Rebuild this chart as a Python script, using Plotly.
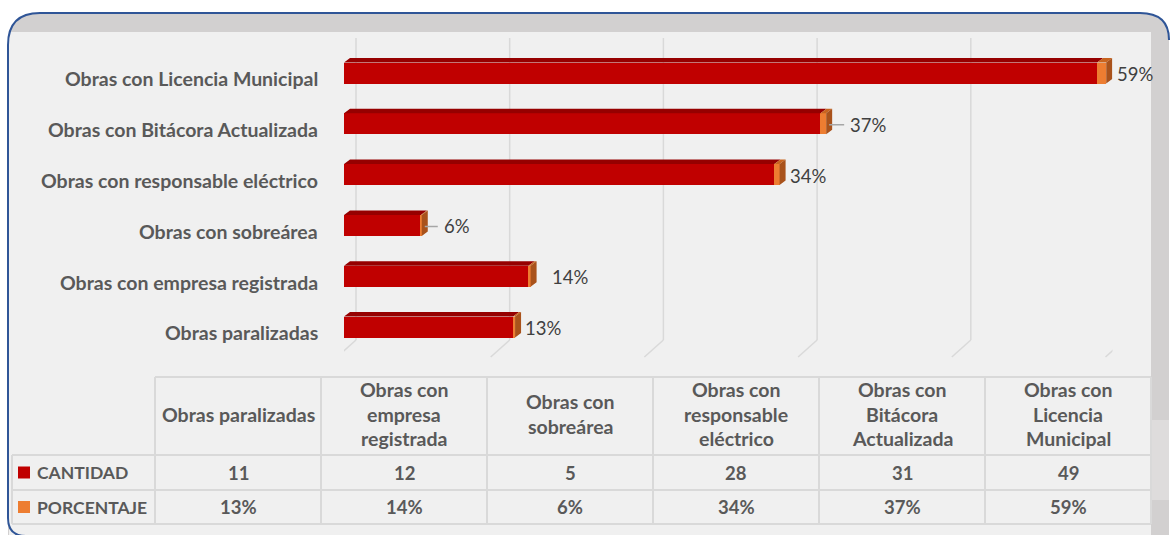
import plotly.graph_objects as go

# Datos (orden de abajo hacia arriba en el grafico, de izquierda a derecha en la tabla)
categorias = [
    "Obras paralizadas",
    "Obras con empresa registrada",
    "Obras con sobreárea",
    "Obras con responsable eléctrico",
    "Obras con Bitácora Actualizada",
    "Obras con Licencia Municipal",
]
cantidad = [11, 12, 5, 28, 31, 49]
porcentaje = [13, 14, 6, 34, 37, 59]
encabezados = [
    ["Obras paralizadas"],
    ["Obras con", "empresa", "registrada"],
    ["Obras con", "sobreárea"],
    ["Obras con", "responsable", "eléctrico"],
    ["Obras con", "Bitácora", "Actualizada"],
    ["Obras con", "Licencia", "Municipal"],
]
series = ["CANTIDAD", "PORCENTAJE"]
x_ticks = [0, 10, 20, 30, 40, 50]

W, H = 1170, 535
FONT = "Lato"
TXT = "#595959"
RED, RED_TOP = "#c00000", "#960000"
ORANGE, ORANGE_TOP, SIDE = "#ed7d31", "#c8641f", "#a9521b"
GRID = "#d9d9d9"


def px(x):
    return x / W


def py(y):
    return 1 - y / H


def pt(x, y):
    return f"{px(x):.5f},{py(y):.5f}"


# geometria del area de barras (pixeles)
X0, SCALE = 344, 15.37          # 0 en la cara frontal, px por unidad
Y_TOP, Y_STEP = 73, 50.8        # centro de la barra superior, separacion
BAR_W = 21 / Y_STEP
DX, DY = 6 / SCALE, 4.5 / Y_STEP  # profundidad 3D en unidades de datos
n = len(categorias)
ypos = list(range(n))
pct = [p / 100 for p in porcentaje]

y_bottom = Y_TOP + (n - 1) * Y_STEP + Y_STEP / 2
y_upper = Y_TOP - Y_STEP / 2

fig = go.Figure()

fig.add_trace(go.Bar(x=cantidad, y=ypos, orientation="h", width=BAR_W, name=series[0],
                     marker=dict(color=RED, line=dict(width=0)), hoverinfo="skip"))
fig.add_trace(go.Bar(x=pct, y=ypos, orientation="h", width=BAR_W, name=series[1],
                     marker=dict(color=ORANGE, line=dict(width=0)), hoverinfo="skip"))

# caras superiores y laterales (efecto 3D)
top_r_x, top_r_y, top_o_x, top_o_y, side_x, side_y = [], [], [], [], [], []
for i, (c, p) in enumerate(zip(cantidad, pct)):
    t = i + BAR_W / 2
    b = i - BAR_W / 2
    top_r_x += [0, c, c + DX, DX, 0, None]
    top_r_y += [t, t, t + DY, t + DY, t, None]
    top_o_x += [c, c + p, c + p + DX, c + DX, c, None]
    top_o_y += [t, t, t + DY, t + DY, t, None]
    e = c + p
    side_x += [e, e, e + DX, e + DX, e, None]
    side_y += [b, t, t + DY, b + DY, b, None]

for xs, ys, col in [(top_r_x, top_r_y, RED_TOP), (top_o_x, top_o_y, ORANGE_TOP), (side_x, side_y, SIDE)]:
    fig.add_trace(go.Scatter(x=xs, y=ys, fill="toself", fillcolor=col, mode="lines",
                             line=dict(width=0, color=col), hoverinfo="skip", showlegend=False))

shapes = []
# marco: banda gris, panel claro, borde azul
shapes.append(dict(type="path", xref="paper", yref="paper", layer="below",
                   path=f"M{pt(8, 535)} L{pt(8, 45)} Q{pt(8, 13)} {pt(40, 13)} L{pt(1140, 13)} "
                        f"Q{pt(1169, 13)} {pt(1169, 40)} L{pt(1169, 535)} Z",
                   fillcolor="#d2d0d0", line=dict(width=0)))
shapes.append(dict(type="rect", xref="paper", yref="paper", layer="below",
                   x0=px(1151), x1=px(1169), y0=py(500), y1=py(420),
                   fillcolor="#dedcdc", line=dict(width=0)))
shapes.append(dict(type="rect", xref="paper", yref="paper", layer="below",
                   x0=px(9), x1=px(1151), y0=py(535), y1=py(32),
                   fillcolor="#f0f0f0", line=dict(width=0)))
shapes.append(dict(type="path", xref="paper", yref="paper", layer="below",
                   path=f"M{pt(26, 536)} Q{pt(8, 536)} {pt(8, 518)} L{pt(8, 45)} Q{pt(8, 13)} {pt(40, 13)} "
                        f"L{pt(1140, 13)} Q{pt(1169, 13)} {pt(1169, 40)}",
                   line=dict(color="#2f5597", width=2)))

# lineas de division (pared del fondo + suelo)
for t in x_ticks:
    shapes.append(dict(type="line", xref="x", xsizemode="pixel", xanchor=t, x0=12, x1=12,
                       yref="paper", y0=py(340), y1=py(38), layer="below",
                       line=dict(color=GRID, width=1.5)))
    shapes.append(dict(type="line", xref="x", xsizemode="pixel", xanchor=t, x0=12, x1=-7,
                       yref="paper", y0=py(340), y1=py(357), layer="below",
                       line=dict(color=GRID, width=1.5)))

# tabla de datos
col_l, col_w = 155, 166
cols = [col_l + k * col_w for k in range(n + 1)]
row_top, row_hdr, row_1, row_2 = 377, 455, 490, 524
tl = dict(color=GRID, width=2)
shapes.append(dict(type="line", xref="paper", yref="paper", x0=px(col_l), x1=px(cols[-1]),
                   y0=py(row_top), y1=py(row_top), line=tl))
for yy in (row_hdr, row_1, row_2):
    shapes.append(dict(type="line", xref="paper", yref="paper", x0=px(12), x1=px(cols[-1]),
                       y0=py(yy), y1=py(yy), line=tl))
shapes.append(dict(type="line", xref="paper", yref="paper", x0=px(12), x1=px(12),
                   y0=py(row_hdr), y1=py(row_2), line=tl))
for xx in cols:
    shapes.append(dict(type="line", xref="paper", yref="paper", x0=px(xx), x1=px(xx),
                       y0=py(row_top), y1=py(row_2), line=tl))

annotations = []
bold = dict(family=FONT, size=19.5, color=TXT, weight="bold")
bold_row = dict(family=FONT, size=18.5, color=TXT, weight="bold")
bold_name = dict(family=FONT, size=17.5, color=TXT, weight="bold")

# etiquetas de categoria
for i, cat in enumerate(categorias):
    annotations.append(dict(text=cat, xref="paper", x=px(320), xanchor="right", yref="y", y=i,
                            yanchor="middle", yshift=-6, showarrow=False, font=bold))

# etiquetas de datos
label_shift = [2, 13, 17, 2, 19, 3]
leader = [False, False, True, False, True, False]
for i, (c, p, v) in enumerate(zip(cantidad, pct, porcentaje)):
    end = c + p + DX
    lab = dict(text=f"{v}%", x=end, y=i, xref="x", yref="y", xanchor="left", yanchor="middle",
               yshift=-1, font=dict(family=FONT, size=18.5, color="#404040"))
    if leader[i]:
        lab.update(showarrow=True, ax=label_shift[i], ay=0, arrowhead=0, arrowwidth=1.5,
                   arrowcolor="#a6a6a6", x=end - DX / 2, standoff=0, startstandoff=4)
    else:
        lab.update(showarrow=False, xshift=label_shift[i])
    annotations.append(lab)

# encabezados de la tabla
hdr_mid, line_h = 414, 24.5
for k, lines in enumerate(encabezados):
    cx = (cols[k] + cols[k + 1]) / 2
    for j, ln in enumerate(lines):
        yy = hdr_mid + (j - (len(lines) - 1) / 2) * line_h
        annotations.append(dict(text=ln, xref="paper", yref="paper", x=px(cx), y=py(yy),
                                xanchor="center", yanchor="middle", showarrow=False, font=bold))

# filas de valores
for name, vals, yy, col in [(series[0], [str(v) for v in cantidad], (row_hdr + row_1) / 2, RED),
                            (series[1], [f"{v}%" for v in porcentaje], (row_1 + row_2) / 2, ORANGE)]:
    shapes.append(dict(type="rect", xref="paper", yref="paper", x0=px(18), x1=px(30),
                       y0=py(yy + 6), y1=py(yy - 6), fillcolor=col, line=dict(width=0)))
    annotations.append(dict(text=name, xref="paper", yref="paper", x=px(35), y=py(yy),
                            xanchor="left", yanchor="middle", showarrow=False, font=bold_name))
    for k, v in enumerate(vals):
        cx = (cols[k] + cols[k + 1]) / 2
        annotations.append(dict(text=v, xref="paper", yref="paper", x=px(cx), y=py(yy),
                                xanchor="center", yanchor="middle", showarrow=False, font=bold_row))

fig.update_layout(
    width=W, height=H,
    margin=dict(l=0, r=0, t=0, b=0),
    paper_bgcolor="white",
    plot_bgcolor="rgba(0,0,0,0)",
    barmode="stack",
    showlegend=False,
    shapes=shapes,
    annotations=annotations,
    font=dict(family=FONT),
    xaxis=dict(domain=[px(X0), px(X0 + SCALE * 50)], range=[0, 50], visible=False, fixedrange=True),
    yaxis=dict(domain=[py(y_bottom), py(y_upper)], range=[-0.5, n - 0.5], visible=False, fixedrange=True),
)

fig.write_html("out.html", config={"displayModeBar": False},
               post_script="document.body.style.margin='0';")
